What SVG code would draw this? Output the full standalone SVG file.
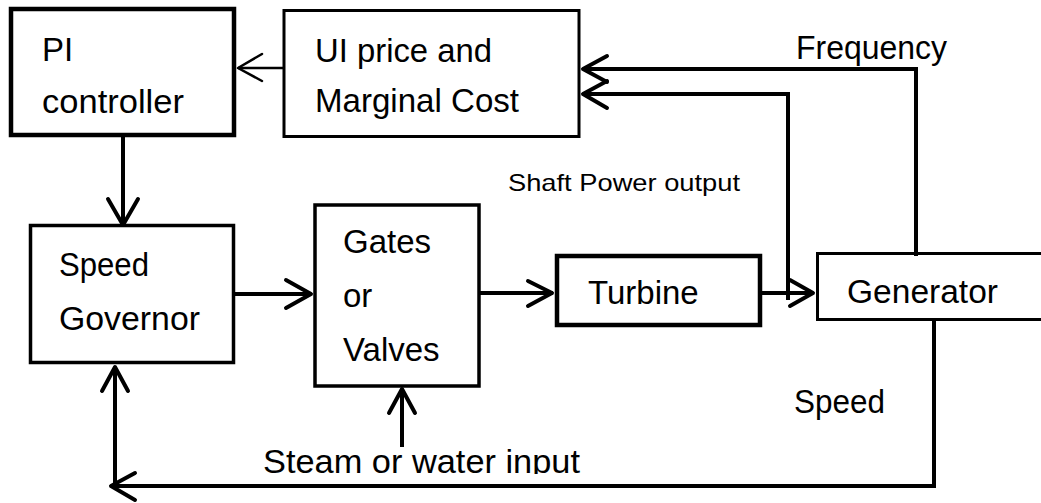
<svg xmlns="http://www.w3.org/2000/svg" width="1041" height="503" viewBox="0 0 1041 503">
<style>
  .box{fill:#fff;stroke:#000;stroke-linejoin:miter}
  .lbl{font-family:"Liberation Sans",Arial,sans-serif;font-size:33px;fill:#000}
  .sm{font-family:"Liberation Sans",Arial,sans-serif;font-size:24px;fill:#000}
  .ln{fill:none;stroke:#000;stroke-width:4;stroke-linejoin:miter}
  .hd{fill:none;stroke:#000;stroke-width:4;stroke-linecap:round;stroke-linejoin:round}
</style>
<defs>
  <clipPath id="steamClip"><rect x="0" y="0" width="1041" height="474"/></clipPath>
</defs>
<rect width="1041" height="503" fill="#fff"/>

<g id="pi-controller">
  <rect class="box" x="11" y="9" width="223" height="126" stroke-width="4.5"/>
  <text class="lbl" x="42" y="61">PI</text>
  <text class="lbl" x="42" y="113" textLength="142" lengthAdjust="spacingAndGlyphs">controller</text>
</g>

<g id="ui-price">
  <rect class="box" x="284" y="10.5" width="295" height="126" stroke-width="3"/>
  <text class="lbl" x="315" y="62" textLength="177" lengthAdjust="spacingAndGlyphs">UI price and</text>
  <text class="lbl" x="315" y="112" textLength="204" lengthAdjust="spacingAndGlyphs">Marginal Cost</text>
</g>

<g id="speed-governor">
  <rect class="box" x="30.5" y="225.5" width="203" height="137" stroke-width="3.5"/>
  <text class="lbl" x="59" y="276" textLength="90" lengthAdjust="spacingAndGlyphs">Speed</text>
  <text class="lbl" x="59" y="330" textLength="141" lengthAdjust="spacingAndGlyphs">Governor</text>
</g>

<g id="gates-valves">
  <rect class="box" x="315" y="205" width="164" height="181" stroke-width="3.5"/>
  <text class="lbl" x="343" y="253">Gates</text>
  <text class="lbl" x="343" y="307">or</text>
  <text class="lbl" x="343" y="361">Valves</text>
</g>

<g id="turbine">
  <rect class="box" x="557" y="256" width="203" height="69" stroke-width="4.5"/>
  <text class="lbl" x="588" y="304">Turbine</text>
</g>

<g id="generator">
  <rect class="box" x="817.5" y="253.5" width="240" height="66" stroke-width="3"/>
  <text class="lbl" x="847" y="303" textLength="151" lengthAdjust="spacingAndGlyphs">Generator</text>
</g>

<g id="connectors">
  <!-- UI price -> PI controller -->
  <line x1="284" y1="68" x2="238" y2="68" stroke="#000" stroke-width="2.5"/>
  <polyline points="262,54 238,68 262,81" fill="none" stroke="#000" stroke-width="2.5" stroke-linecap="round" stroke-linejoin="round"/>

  <!-- PI controller -> Speed Governor -->
  <line class="ln" x1="123" y1="137" x2="123" y2="224"/>
  <polyline class="hd" points="108,199 123,225 138,199"/>

  <!-- Speed Governor -> Gates -->
  <line class="ln" x1="234" y1="294" x2="311" y2="294"/>
  <polyline class="hd" points="286,280 311,294 286,308"/>

  <!-- Gates -> Turbine -->
  <line class="ln" x1="480" y1="293" x2="553" y2="293"/>
  <polyline class="hd" points="528,281 552,293 528,306"/>

  <!-- Turbine -> Generator -->
  <line class="ln" x1="760" y1="293" x2="813" y2="293"/>
  <polyline class="hd" points="790,280 813,293 790,306"/>

  <!-- Shaft power output feedback -->
  <polyline class="ln" points="788,300 788,94 583,94"/>
  <polyline class="hd" points="607,81 583,94 607,108"/>

  <!-- Frequency feedback -->
  <polyline class="ln" points="916,256 916,69 583,69"/>
  <polyline class="hd" points="607,56 583,69 607,82"/>

  <!-- Speed feedback -->
  <polyline class="ln" points="934,319 934,486 112,486"/>
  <polyline class="hd" points="135,473 111,486 135,500"/>
  <line class="ln" x1="115" y1="486" x2="115" y2="367"/>
  <polyline class="hd" points="102,391 115,367 128,391"/>

  <!-- Steam or water input -->
  <line class="ln" x1="402" y1="447" x2="402" y2="389"/>
  <polyline class="hd" points="389,413 402,389 415,413"/>
</g>

<g id="labels">
  <text class="lbl" x="796" y="59" textLength="151" lengthAdjust="spacingAndGlyphs">Frequency</text>
  <text class="sm" x="508" y="191" textLength="232" lengthAdjust="spacingAndGlyphs">Shaft Power output</text>
  <text class="lbl" x="794" y="413" textLength="91" lengthAdjust="spacingAndGlyphs">Speed</text>
  <text class="lbl" x="263" y="473" clip-path="url(#steamClip)" textLength="317" lengthAdjust="spacingAndGlyphs">Steam or water input</text>
</g>
</svg>
